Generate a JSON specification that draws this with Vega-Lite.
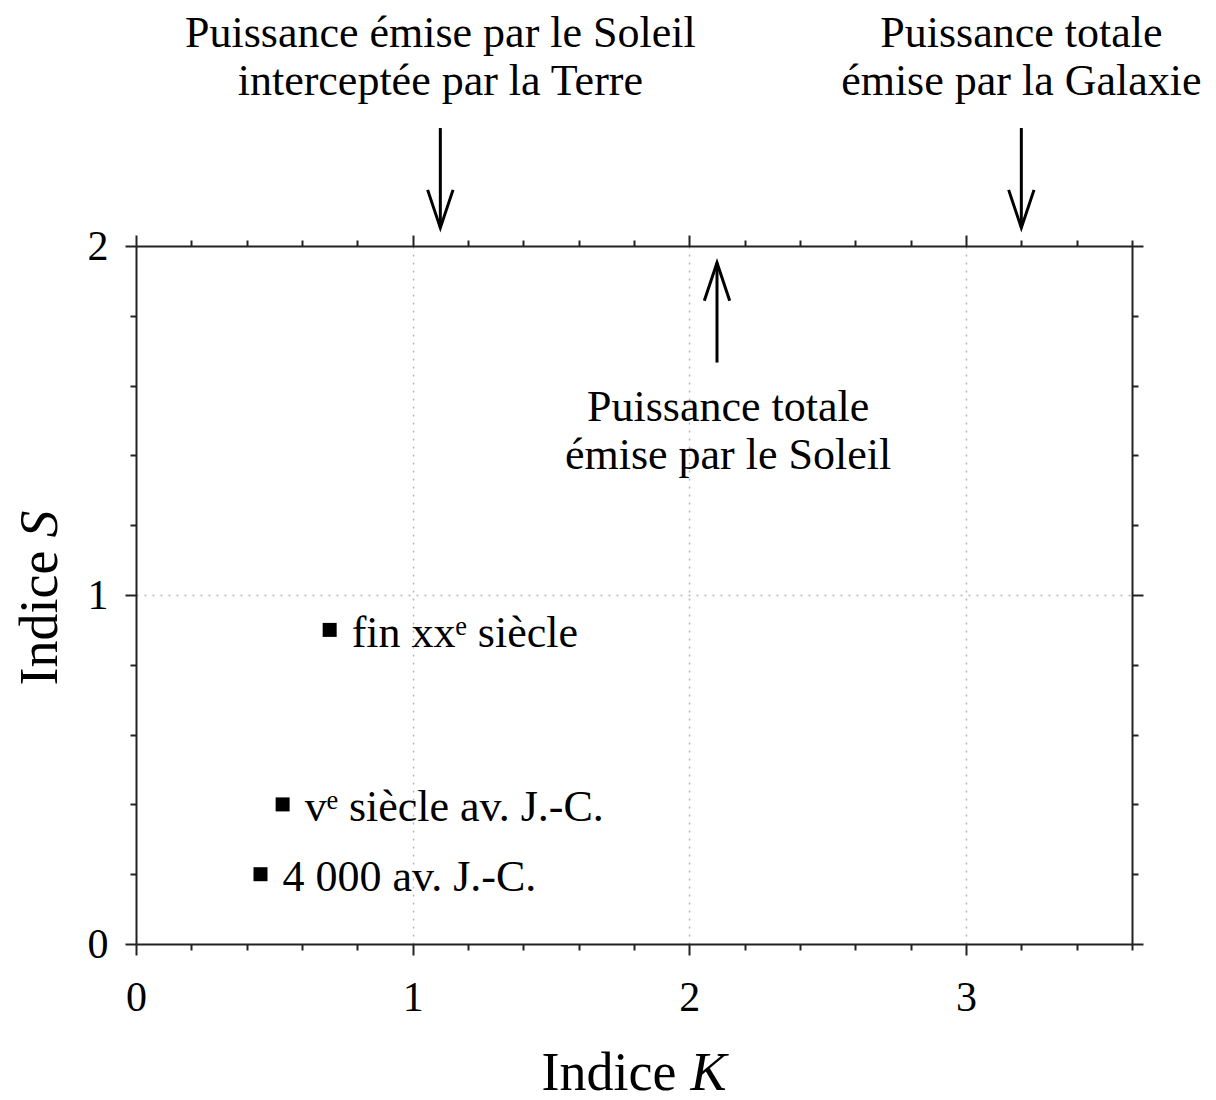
{
  "$schema": "https://vega.github.io/schema/vega-lite/v6.json",
  "width": 996,
  "height": 698,
  "autosize": {"type": "none"},
  "padding": {"left": 136, "top": 246, "right": 84, "bottom": 156},
  "background": "white",
  "config": {
    "view": {"stroke": null},
    "font": "Liberation Serif",
    "axis": {
      "domainColor": "#222222",
      "domainWidth": 2,
      "tickColor": "#222222",
      "tickWidth": 2,
      "labelFont": "Liberation Serif",
      "labelFontSize": 42,
      "labelColor": "#000000",
      "labelFlush": false,
      "labelOverlap": false,
      "titleFont": "Liberation Serif",
      "titleFontSize": 54,
      "titleFontWeight": "normal",
      "titleColor": "#000000",
      "gridColor": "#b8b8b8",
      "gridDash": [2, 6],
      "gridWidth": 1.5
    }
  },
  "resolve": {"axis": {"x": "independent", "y": "independent"}},
  "layer": [
    {
      "data": {"values": [
        {"K": 0.45, "S": 0.2, "label": "4 000 av. J.-C."},
        {"K": 0.53, "S": 0.4, "label": "vᵉ siècle av. J.-C."},
        {"K": 0.7, "S": 0.9, "label": "fin xxᵉ siècle"}
      ]},
      "mark": {"type": "point", "shape": "square", "filled": true, "color": "#000000", "opacity": 1, "size": 196},
      "encoding": {
        "x": {"field": "K", "type": "quantitative", "scale": {"domain": [0, 3.6], "nice": false, "zero": false},
          "axis": {"orient": "bottom", "values": [0,0.2,0.4,0.6,0.8,1,1.2,1.4,1.6,1.8,2,2.2,2.4,2.6,2.8,3,3.2,3.4,3.6],
            "labelExpr": "datum.value % 1 === 0 ? '' + datum.value : ''",
            "tickSize": {"condition": {"test": "datum.value % 1 === 0", "value": 11}, "value": 6},
            "labelPadding": 55, "labelBaseline": "alphabetic",
            "grid": true,
            "gridOpacity": {"condition": {"test": "datum.value % 1 === 0 && datum.value > 0", "value": 1}, "value": 0},
            "title": "Indice", "titleAlign": "right", "titleBaseline": "alphabetic", "titleX": 540, "titleY": 145}},
        "y": {"field": "S", "type": "quantitative", "scale": {"domain": [0, 2], "nice": false, "zero": false},
          "axis": {"orient": "left", "values": [0,0.2,0.4,0.6,0.8,1,1.2,1.4,1.6,1.8,2],
            "labelExpr": "datum.value % 1 === 0 ? '' + datum.value : ''",
            "tickSize": {"condition": {"test": "datum.value % 1 === 0", "value": 11}, "value": 6},
            "labelPadding": 17,
            "grid": true,
            "gridOpacity": {"condition": {"test": "datum.value === 1", "value": 1}, "value": 0},
            "title": "Indice", "titleAngle": 270, "titleAlign": "left", "titleBaseline": "alphabetic", "titleX": -80, "titleY": 439}}
      }
    },
    {
      "data": {"values": [
        {"K": 0.45, "S": 0.2, "label": "4 000 av. J.-C."},
        {"K": 0.53, "S": 0.4, "label": "vᵉ siècle av. J.-C."},
        {"K": 0.7, "S": 0.9, "label": "fin xxᵉ siècle"}
      ]},
      "mark": {"type": "text", "align": "left", "baseline": "alphabetic", "dx": 22, "dy": 17, "fontSize": 44, "font": "Liberation Serif, DejaVu Serif", "color": "#000000"},
      "encoding": {
        "x": {"field": "K", "type": "quantitative", "scale": {"domain": [0, 3.6], "nice": false, "zero": false},
          "axis": {"orient": "top", "values": [0,0.2,0.4,0.6,0.8,1,1.2,1.4,1.6,1.8,2,2.2,2.4,2.6,2.8,3,3.2,3.4,3.6],
            "labels": false, "grid": false, "title": null,
            "tickSize": {"condition": {"test": "datum.value % 1 === 0", "value": 11}, "value": 6}}},
        "y": {"field": "S", "type": "quantitative", "scale": {"domain": [0, 2], "nice": false, "zero": false},
          "axis": {"orient": "right", "values": [0,0.2,0.4,0.6,0.8,1,1.2,1.4,1.6,1.8,2],
            "labels": false, "grid": false, "title": null,
            "tickSize": {"condition": {"test": "datum.value % 1 === 0", "value": 11}, "value": 6}}},
        "text": {"field": "label", "type": "nominal"}
      }
    },
    {
      "data": {"values": [
        {"K": 1.1, "S": 2.57, "text": "Puissance émise par le Soleil\ninterceptée par la Terre"},
        {"K": 3.2, "S": 2.57, "text": "Puissance totale\némise par la Galaxie"},
        {"K": 2.14, "S": 1.5, "text": "Puissance totale\némise par le Soleil"}
      ]},
      "mark": {"type": "text", "align": "center", "baseline": "alphabetic", "lineBreak": "\n", "lineHeight": 48, "fontSize": 44, "font": "Liberation Serif", "color": "#000000"},
      "encoding": {
        "x": {"field": "K", "type": "quantitative", "scale": {"domain": [0, 3.6], "nice": false, "zero": false},
          "axis": {"orient": "bottom", "domain": false, "ticks": false, "labels": false, "grid": false,
            "title": "K", "titleFontStyle": "italic", "titleAlign": "left", "titleBaseline": "alphabetic", "titleX": 554, "titleY": 145}},
        "y": {"field": "S", "type": "quantitative", "scale": {"domain": [0, 2], "nice": false, "zero": false},
          "axis": {"orient": "left", "domain": false, "ticks": false, "labels": false, "grid": false,
            "title": "S", "titleFontStyle": "italic", "titleAngle": 270, "titleAlign": "left", "titleBaseline": "alphabetic", "titleX": -80, "titleY": 291}},
        "text": {"field": "text", "type": "nominal"}
      }
    },
    {
      "data": {"values": [
        {"K": 1.1, "S_tail": 2.338, "S_tip": 2.052, "dir": "down"},
        {"K": 3.2, "S_tail": 2.338, "S_tip": 2.052, "dir": "down"},
        {"K": 2.1, "S_tail": 1.666, "S_tip": 1.952, "dir": "up"}
      ]},
      "layer": [
        {
          "mark": {"type": "rule", "color": "#000000", "strokeWidth": 3, "strokeCap": "butt"},
          "encoding": {
            "x": {"field": "K", "type": "quantitative", "scale": {"domain": [0, 3.6], "nice": false, "zero": false}, "axis": null},
            "y": {"field": "S_tail", "type": "quantitative", "scale": {"domain": [0, 2], "nice": false, "zero": false}, "axis": null},
            "y2": {"field": "S_tip"}
          }
        },
        {
          "mark": {"type": "point", "filled": false, "color": "#000000", "opacity": 1, "strokeWidth": 3, "strokeJoin": "miter", "size": 5776},
          "encoding": {
            "x": {"field": "K", "type": "quantitative", "scale": {"domain": [0, 3.6], "nice": false, "zero": false}, "axis": null},
            "y": {"field": "S_tip", "type": "quantitative", "scale": {"domain": [0, 2], "nice": false, "zero": false}, "axis": null},
            "shape": {"field": "dir", "type": "nominal", "scale": {"domain": ["down", "up"], "range": ["M-0.334,-1L0,0L0.334,-1", "M-0.334,1L0,0L0.334,1"]}, "legend": null}
          }
        }
      ]
    }
  ]
}
